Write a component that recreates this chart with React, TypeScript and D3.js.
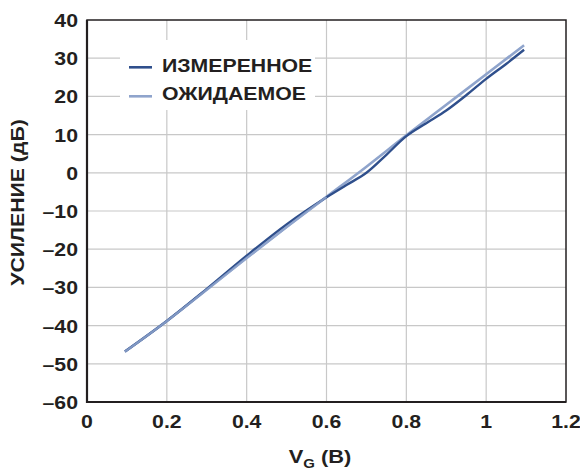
import React from "react";
import * as d3 from "d3";

const xTicks = [0, 0.2, 0.4, 0.6, 0.8, 1, 1.2];
const yTicks = [-60, -50, -40, -30, -20, -10, 0, 10, 20, 30, 40];

const measuredX = [0.095, 0.2, 0.3, 0.4, 0.5, 0.6, 0.65, 0.7, 0.75, 0.8, 0.85, 0.9, 0.95, 1.0, 1.05, 1.095];
const measuredY = [-46.8, -38.8, -30.4, -21.7, -13.5, -6.4, -3.2, 0.0, 4.7, 9.6, 13.0, 16.3, 20.3, 24.6, 28.5, 32.2];

const expectedX = [0.095, 0.2, 0.3, 0.4, 0.5, 0.6, 0.7, 0.8, 0.9, 1.0, 1.095];
const expectedY = [-46.8, -38.8, -30.6, -22.3, -14.2, -6.3, 1.6, 9.8, 17.8, 25.8, 33.4];

const legendLabels = ["ИЗМЕРЕННОЕ", "ОЖИДАЕМОЕ"];
const colors = ["#2f4f8c", "#8fa4cc"];

export default function App() {
  const W = 580, H = 470;
  const L = 87, R = 566, T = 20, B = 402;
  const x = d3.scaleLinear().domain([0, 1.2]).range([L, R]);
  const y = d3.scaleLinear().domain([-60, 40]).range([B, T]);
  const line = d3.line<[number, number]>().x(d => x(d[0])).y(d => y(d[1])).curve(d3.curveCatmullRom.alpha(0.5));
  const measured = measuredX.map((v, i) => [v, measuredY[i]] as [number, number]);
  const expected = expectedX.map((v, i) => [v, expectedY[i]] as [number, number]);
  const font = "'Liberation Sans', Arial, sans-serif";
  const fmtY = (v: number) => (v < 0 ? "\u2013" + Math.abs(v) : String(v));
  const SX = 1.15;
  const ink = "#231f20";
  return (
    <svg width={W} height={H} style={{ position: "absolute", left: 0, top: 0 }} fontFamily={font}>
      <rect x={0} y={0} width={W} height={H} fill="#fff" />
      {xTicks.slice(1, -1).map(t => (
        <line key={"gx" + t} x1={x(t)} x2={x(t)} y1={T} y2={B} stroke="#c8c8c8" strokeWidth={1.2} />
      ))}
      {yTicks.slice(1, -1).map(t => (
        <line key={"gy" + t} x1={L} x2={R} y1={y(t)} y2={y(t)} stroke="#c8c8c8" strokeWidth={1.2} />
      ))}
      <rect x={120} y={40} width={195} height={70} fill="#fff" />
      <path d={line(expected) || ""} fill="none" stroke={colors[1]} strokeWidth={2.6} />
      <path d={line(measured) || ""} fill="none" stroke={colors[0]} strokeWidth={2.4} />
      <path d={line(expected.filter(d => d[0] < 0.62)) || ""} fill="none" stroke={colors[1]} strokeWidth={2.2} opacity={0.85} />
      <rect x={L} y={T} width={R - L} height={B - T} fill="none" stroke={ink} strokeWidth={1.5} />
      <line x1={L} x2={L} y1={T} y2={B + 1} stroke={ink} strokeWidth={2.2} />
      <line x1={L - 1} x2={R} y1={B} y2={B} stroke={ink} strokeWidth={2.2} />
      {legendLabels.map((lab, i) => (
        <g key={lab}>
          <line x1={129} x2={152} y1={67.3 + i * 29} y2={67.3 + i * 29} stroke={colors[i]} strokeWidth={2.6} />
          <text transform={`translate(162,${72.3 + i * 28}) scale(${SX},1)`} fontSize={18.5} fontWeight="bold" fill={ink}>{lab}</text>
        </g>
      ))}
      {yTicks.map(t => (
        <text key={"ty" + t} transform={`translate(78,${y(t) + 7}) scale(${SX},1)`} textAnchor="end" fontSize={18.5} fontWeight="bold" fill={ink}>{fmtY(t)}</text>
      ))}
      {xTicks.map(t => (
        <text key={"tx" + t} transform={`translate(${x(t)},428.3) scale(${SX},1)`} textAnchor="middle" fontSize={18.5} fontWeight="bold" fill={ink}>{String(t)}</text>
      ))}
      <text transform={`translate(320,463) scale(${SX},1)`} textAnchor="middle" fontSize={19} fontWeight="bold" fill={ink}>
        V<tspan fontSize={13} dy={5}>G</tspan><tspan dy={-5}> (B)</tspan>
      </text>
      <text transform={`translate(24.3,202.5) rotate(-90) scale(${SX},1)`} textAnchor="middle" fontSize={18.5} fontWeight="bold" fill={ink}>УСИЛЕНИЕ (дБ)</text>
    </svg>
  );
}
